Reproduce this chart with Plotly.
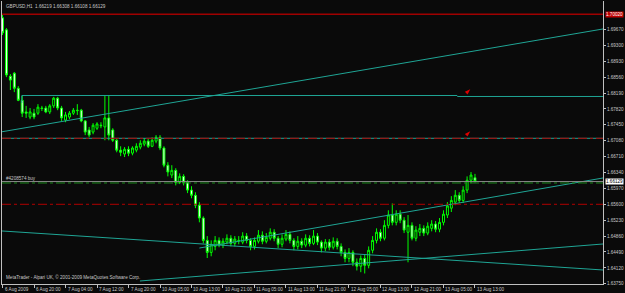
import plotly.graph_objects as go

# ---------------- data ----------------
bars = list(range(121))
opens = [1.6994,1.6966,1.6858,1.6865,1.6830,1.6802,1.6775,1.6763,1.6772,1.6772,
         1.6784,1.6784,1.6775,1.6789,1.6807,1.6784,1.6756,1.6763,1.6772,1.6779,
         1.6779,1.6754,1.6733,1.6728,1.6737,1.6744,1.6740,1.6761,1.6733,1.6709,
         1.6686,1.6677,1.6688,1.6679,1.6686,1.6693,1.6700,1.6707,1.6695,1.6707,
         1.6716,1.6691,1.6651,1.6628,1.6639,1.6611,1.6625,1.6611,1.6593,1.6581,
         1.6558,1.6528,1.6476,1.6448,1.6462,1.6476,1.6465,1.6472,1.6481,1.6469,
         1.6476,1.6472,1.6486,1.6476,1.6462,1.6474,1.6488,1.6474,1.6481,1.6495,
         1.6481,1.6467,1.6479,1.6490,1.6476,1.6462,1.6474,1.6465,1.6481,1.6469,
         1.6486,1.6472,1.6458,1.6472,1.6460,1.6474,1.6462,1.6448,1.6434,1.6448,
         1.6425,1.6416,1.6434,1.6418,1.6453,1.6476,1.6495,1.6481,1.6511,1.6535,
         1.6518,1.6537,1.6523,1.6495,1.6511,1.6481,1.6495,1.6504,1.6493,1.6504,
         1.6514,1.6502,1.6518,1.6535,1.6551,1.6565,1.6581,1.6569,1.6593,1.6616,
         1.66219]
highs = [1.7003,1.6970,1.6863,1.6868,1.6835,1.6812,1.6789,1.6784,1.6782,1.6793,
         1.6789,1.6789,1.6793,1.6810,1.6810,1.6789,1.6775,1.6777,1.6784,1.6793,
         1.6782,1.6756,1.6740,1.6749,1.6751,1.6751,1.6814,1.6814,1.6737,1.6714,
         1.6695,1.6693,1.6695,1.6695,1.6702,1.6709,1.6714,1.6712,1.6716,1.6721,
         1.6721,1.6695,1.6658,1.6651,1.6644,1.6632,1.6630,1.6616,1.6602,1.6588,
         1.6565,1.6532,1.6486,1.6476,1.6486,1.6483,1.6481,1.6490,1.6488,1.6486,
         1.6486,1.6495,1.6493,1.6481,1.6483,1.6500,1.6497,1.6493,1.6504,1.6502,
         1.6486,1.6490,1.6500,1.6497,1.6481,1.6486,1.6481,1.6490,1.6488,1.6500,
         1.6493,1.6476,1.6479,1.6479,1.6483,1.6481,1.6469,1.6455,1.6458,1.6453,
         1.6434,1.6441,1.6444,1.6462,1.6486,1.6504,1.6502,1.6523,1.6546,1.6562,
         1.6546,1.6546,1.6530,1.6535,1.6518,1.6509,1.6514,1.6511,1.6518,1.6523,
         1.6521,1.6528,1.6546,1.6565,1.6579,1.6593,1.6588,1.6602,1.6625,1.6635,
         1.66308]
lows = [1.6954,1.6856,1.6826,1.6821,1.6800,1.6763,1.6761,1.6758,1.6758,1.6768,
        1.6777,1.6772,1.6770,1.6784,1.6779,1.6754,1.6751,1.6758,1.6768,1.6768,
        1.6751,1.6721,1.6716,1.6723,1.6733,1.6737,1.6709,1.6709,1.6705,1.6681,
        1.6672,1.6670,1.6672,1.6674,1.6681,1.6688,1.6695,1.6691,1.6693,1.6702,
        1.6686,1.6646,1.6625,1.6621,1.6604,1.6607,1.6604,1.6586,1.6574,1.6551,
        1.6518,1.6469,1.6435,1.6439,1.6453,1.6460,1.6458,1.6467,1.6462,1.6462,
        1.6467,1.6467,1.6469,1.6453,1.6455,1.6469,1.6467,1.6469,1.6476,1.6474,
        1.6458,1.6460,1.6474,1.6469,1.6453,1.6455,1.6458,1.6460,1.6462,1.6465,
        1.6465,1.6448,1.6451,1.6453,1.6455,1.6455,1.6439,1.6425,1.6425,1.6416,
        1.6406,1.6402,1.6399,1.6411,1.6446,1.6469,1.6474,1.6476,1.6504,1.6511,
        1.6511,1.6516,1.6493,1.6425,1.6476,1.6474,1.6486,1.6486,1.6488,1.6497,
        1.6495,1.6495,1.6511,1.6528,1.6542,1.6558,1.6563,1.6563,1.6586,1.6609,
        1.66108]
closes = [1.6959,1.6861,1.6849,1.6830,1.6802,1.6772,1.6772,1.6775,1.6763,1.6786,
          1.6783,1.6775,1.6789,1.6807,1.6784,1.6761,1.6768,1.6772,1.6779,1.6778,
          1.6754,1.6728,1.6721,1.6744,1.6747,1.6743,1.6761,1.6721,1.6709,1.6686,
          1.6681,1.6688,1.6679,1.6691,1.6695,1.6702,1.6707,1.6695,1.6709,1.6716,
          1.6691,1.6651,1.6635,1.6639,1.6611,1.6625,1.6611,1.6593,1.6581,1.6558,
          1.6528,1.6476,1.6448,1.6467,1.6476,1.6465,1.6474,1.6481,1.6469,1.6479,
          1.6475,1.6486,1.6476,1.6462,1.6476,1.6488,1.6474,1.6483,1.6495,1.6481,
          1.6467,1.6481,1.6490,1.6476,1.6462,1.6474,1.6465,1.6481,1.6469,1.6486,
          1.6472,1.6458,1.6472,1.6460,1.6474,1.6462,1.6448,1.6434,1.6448,1.6425,
          1.6416,1.6434,1.6418,1.6453,1.6476,1.6495,1.6481,1.6511,1.6535,1.6518,
          1.6537,1.6523,1.6500,1.6511,1.6481,1.6500,1.6504,1.6493,1.6509,1.6514,
          1.6502,1.6518,1.6537,1.6556,1.6569,1.6581,1.6569,1.6593,1.6616,1.6628,
          1.66129]

x_tick_bars = [0, 8, 16, 24, 32, 40, 48, 56, 64, 72, 80, 88, 96, 104, 112, 120]
x_tick_text = ["6 Aug 2009", "6 Aug 20:00", "7 Aug 04:00", "7 Aug 12:00", "7 Aug 20:00",
               "10 Aug 05:00", "10 Aug 13:00", "10 Aug 21:00", "11 Aug 05:00", "11 Aug 13:00",
               "11 Aug 21:00", "12 Aug 05:00", "12 Aug 13:00", "12 Aug 21:00", "13 Aug 05:00",
               "13 Aug 13:00"]
y_tick_vals = [1.6375, 1.6412, 1.6449, 1.6486, 1.6523, 1.6560, 1.6597, 1.6634, 1.6671,
               1.6708, 1.6745, 1.6782, 1.6819, 1.6856, 1.6893, 1.6930, 1.6967]
y_tick_text = ["1.63750", "1.64120", "1.64490", "1.64860", "1.65230", "1.65600", "1.65970",
               "1.66340", "1.66710", "1.67080", "1.67450", "1.67820", "1.68190", "1.68560",
               "1.68930", "1.69300", "1.69670"]

title_text = "GBPUSD,H1  1.66219 1.66308 1.66108 1.66129"
copyright_text = "MetaTrader - Alpari UK, © 2001-2009 MetaQuotes Software Corp."
order_text = "#4208574 buy"

# horizontal levels
red_level = 1.70020
bid_price = 1.66129
order_price = 1.66096
red_dash_levels = [1.67136, 1.65600]

# trend lines (bar, price) -> (bar, price)
trend_lines = [
    (-0.13, 1.67288, 152.52, 1.69680),   # upper rising line
    (4.9, 1.68132, 115.5, 1.68132),      # horizontal segment
    (115.5, 1.68109, 152.52, 1.68109),   # horizontal continuation
    (4.9, 1.68132, 4.9, 1.67957),        # small vertical corner
    (-0.13, 1.67136, 152.52, 1.67136),   # line under red dash-dot
    (-0.13, 1.64979, 152.52, 1.64071),   # falling lower line
    (34.9, 1.63815, 152.52, 1.64676),    # rising lower line
    (50.0, 1.64582, 152.52, 1.66212),    # rising channel line
]
arrow_bars = [118.8, 118.8]
arrow_prices = [1.68280, 1.67300]

XMIN, XMAX = -0.13, 152.52
YMIN, YMAX = 1.63745, 1.70331

FONT = "Liberation Sans"
TXT = "#c8c8c8"

fig = go.Figure()
fig.add_trace(go.Candlestick(
    x=bars, open=opens, high=highs, low=lows, close=closes,
    increasing=dict(line=dict(color="#00ff00", width=1), fillcolor="#000000"),
    decreasing=dict(line=dict(color="#00ff00", width=1), fillcolor="#ffffff"),
    whiskerwidth=0, hoverinfo="skip"))

for (b0, p0, b1, p1) in trend_lines:
    fig.add_trace(go.Scatter(x=[b0, b1], y=[p0, p1], mode="lines",
                             line=dict(color="#1fa595", width=1), hoverinfo="skip"))

fig.add_trace(go.Scatter(x=[XMIN, XMAX], y=[red_level, red_level], mode="lines",
                         line=dict(color="#a00000", width=1.5), hoverinfo="skip"))
fig.add_trace(go.Scatter(x=[XMIN, XMAX], y=[bid_price, bid_price], mode="lines",
                         line=dict(color="#8a8a8a", width=1), hoverinfo="skip"))
fig.add_trace(go.Scatter(x=[XMIN, XMAX], y=[order_price, order_price], mode="lines",
                         line=dict(color="#1c8a1c", width=1, dash="dashdot"), hoverinfo="skip"))
for lv in red_dash_levels:
    fig.add_trace(go.Scatter(x=[XMIN, XMAX], y=[lv, lv], mode="lines",
                             line=dict(color="#b00000", width=1, dash="dashdot"), hoverinfo="skip"))

fig.add_trace(go.Scatter(x=arrow_bars, y=arrow_prices, mode="markers",
                         marker=dict(symbol="arrow", angle=45, size=6, color="#e00000"),
                         hoverinfo="skip"))

annotations = []
for b, t in zip(x_tick_bars, x_tick_text):
    annotations.append(dict(x=b, y=0, xref="x", yref="paper", text=t, showarrow=False,
                            xanchor="left", yanchor="top", xshift=0, yshift=-1,
                            font=dict(family=FONT, size=4.6, color=TXT)))
annotations.append(dict(x=0, y=1, xref="paper", yref="paper", text=title_text, showarrow=False,
                        xanchor="left", yanchor="top", xshift=2, yshift=-1,
                        font=dict(family=FONT, size=4.6, color=TXT)))
annotations.append(dict(x=0, y=0, xref="paper", yref="paper", text=copyright_text, showarrow=False,
                        xanchor="left", yanchor="bottom", xshift=2, yshift=2,
                        font=dict(family=FONT, size=4.6, color=TXT)))
annotations.append(dict(x=0, y=order_price, xref="paper", yref="y", text=order_text, showarrow=False,
                        xanchor="left", yanchor="bottom", xshift=2, yshift=0,
                        font=dict(family=FONT, size=4.6, color=TXT)))
annotations.append(dict(x=1, y=red_level, xref="paper", yref="y", text="1.70020", showarrow=False,
                        xanchor="left", yanchor="middle", xshift=2, bgcolor="#c00000",
                        borderpad=0, font=dict(family=FONT, size=4.6, color="#ffffff")))
annotations.append(dict(x=1, y=bid_price, xref="paper", yref="y", text="1.66129", showarrow=False,
                        xanchor="left", yanchor="middle", xshift=2, bgcolor="#ffffff",
                        borderpad=0, font=dict(family=FONT, size=4.6, color="#000000")))

fig.update_layout(
    width=625, height=293,
    margin=dict(l=1, r=18, t=1, b=9),
    paper_bgcolor="#0a0a0a", plot_bgcolor="#0a0a0a",
    showlegend=False,
    annotations=annotations,
    xaxis=dict(range=[XMIN, XMAX], showgrid=False, zeroline=False,
               rangeslider=dict(visible=False), tickvals=x_tick_bars,
               ticktext=[""] * len(x_tick_bars), ticks="outside", ticklen=3,
               tickcolor="#c0c0c0", showline=True, linecolor="#c0c0c0", linewidth=1,
               fixedrange=True),
    yaxis=dict(range=[YMIN, YMAX], side="right", showgrid=False, zeroline=False,
               tickvals=y_tick_vals, ticktext=y_tick_text, ticks="outside", ticklen=2,
               tickcolor="#c0c0c0", showline=True, linecolor="#c0c0c0", linewidth=1,
               mirror=True, tickfont=dict(family=FONT, size=4.6, color=TXT),
               fixedrange=True),
)

fig.write_html("out.html")
